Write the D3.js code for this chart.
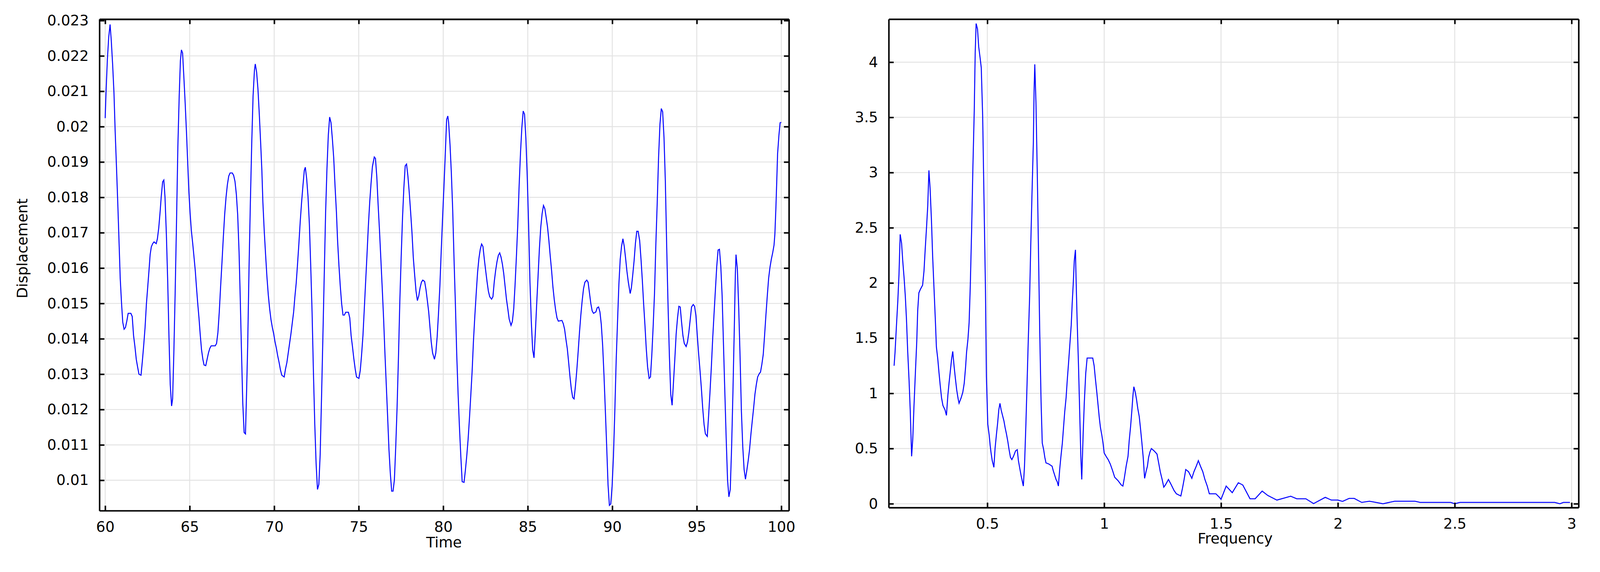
<!DOCTYPE html>
<html><head><meta charset="utf-8">
<script src="https://cdn.jsdelivr.net/npm/d3@7"></script>
<style>html,body{margin:0;padding:0;background:#fff;overflow:hidden}svg{display:block;width:100vw;height:100vh}</style>
</head><body>
<script>
const time = [60.0,60.05,60.13,60.21,60.29,60.36,60.44,60.52,60.59,60.67,60.75,60.83,60.89,60.97,61.04,61.12,61.2,61.28,61.36,61.52,61.6,61.68,61.76,61.84,61.92,62.0,62.12,62.2,62.28,62.36,62.44,62.52,62.6,62.66,62.73,62.81,62.89,63.02,63.09,63.17,63.25,63.32,63.4,63.47,63.54,63.62,63.7,63.77,63.85,63.93,63.99,64.06,64.14,64.22,64.3,64.38,64.45,64.51,64.58,64.65,64.73,64.81,64.89,64.95,65.02,65.1,65.18,65.26,65.33,65.39,65.47,65.55,65.62,65.7,65.78,65.85,65.95,66.03,66.11,66.19,66.27,66.51,66.59,66.67,66.75,66.83,66.91,66.99,67.07,67.15,67.23,67.31,67.39,67.52,67.6,67.68,67.76,67.84,67.92,67.99,68.06,68.14,68.22,68.3,68.35,68.43,68.51,68.59,68.67,68.75,68.83,68.88,68.96,69.04,69.12,69.2,69.27,69.33,69.41,69.49,69.57,69.65,69.73,69.81,69.89,69.97,70.05,70.13,70.21,70.29,70.37,70.45,70.59,70.67,70.75,70.83,70.91,70.99,71.07,71.15,71.22,71.3,71.38,71.46,71.54,71.62,71.7,71.78,71.84,71.92,72.0,72.08,72.16,72.24,72.32,72.4,72.48,72.56,72.64,72.72,72.8,72.88,72.96,73.04,73.12,73.2,73.28,73.36,73.44,73.52,73.6,73.68,73.75,73.83,73.91,73.99,74.07,74.15,74.23,74.39,74.47,74.55,74.63,74.71,74.79,74.87,75.01,75.09,75.17,75.25,75.33,75.41,75.49,75.57,75.65,75.73,75.81,75.92,75.99,76.07,76.15,76.23,76.31,76.39,76.47,76.55,76.63,76.71,76.79,76.87,76.95,77.03,77.11,77.19,77.27,77.35,77.43,77.51,77.59,77.67,77.75,77.83,77.91,77.99,78.07,78.15,78.23,78.31,78.39,78.47,78.55,78.63,78.71,78.79,78.9,78.98,79.06,79.14,79.21,79.29,79.37,79.48,79.56,79.64,79.72,79.8,79.88,79.96,80.04,80.12,80.2,80.27,80.32,80.4,80.48,80.56,80.64,80.72,80.8,80.88,80.96,81.04,81.12,81.23,81.31,81.39,81.47,81.55,81.63,81.71,81.79,81.87,81.95,82.03,82.11,82.19,82.27,82.35,82.43,82.51,82.59,82.67,82.75,82.86,82.94,83.02,83.1,83.18,83.26,83.34,83.42,83.5,83.58,83.66,83.74,83.82,83.9,84.01,84.09,84.17,84.25,84.33,84.41,84.49,84.57,84.65,84.73,84.81,84.89,84.97,85.05,85.13,85.21,85.29,85.37,85.45,85.53,85.61,85.69,85.77,85.85,85.93,86.01,86.09,86.17,86.25,86.33,86.41,86.49,86.57,86.65,86.73,86.81,87.02,87.1,87.18,87.26,87.34,87.42,87.5,87.58,87.66,87.74,87.82,87.9,87.98,88.06,88.14,88.22,88.3,88.38,88.49,88.57,88.65,88.73,88.81,88.89,89.03,89.11,89.19,89.27,89.35,89.43,89.51,89.59,89.67,89.75,89.83,89.91,89.99,90.07,90.15,90.23,90.31,90.39,90.47,90.55,90.63,90.71,90.79,90.87,90.95,91.06,91.13,91.21,91.29,91.37,91.45,91.53,91.62,91.7,91.78,91.85,91.93,92.01,92.09,92.18,92.26,92.34,92.42,92.5,92.58,92.66,92.74,92.82,92.9,92.98,93.06,93.14,93.22,93.3,93.38,93.46,93.54,93.62,93.7,93.78,93.86,93.94,94.02,94.1,94.18,94.26,94.37,94.45,94.53,94.61,94.69,94.79,94.87,94.95,95.03,95.11,95.19,95.27,95.35,95.43,95.51,95.62,95.7,95.78,95.86,95.94,96.02,96.1,96.18,96.26,96.34,96.42,96.5,96.58,96.66,96.74,96.82,96.9,96.98,97.06,97.14,97.22,97.28,97.32,97.4,97.48,97.56,97.64,97.72,97.8,97.88,97.96,98.04,98.12,98.2,98.28,98.36,98.44,98.52,98.6,98.69,98.77,98.85,98.93,99.01,99.09,99.17,99.25,99.33,99.41,99.49,99.57,99.62,99.68,99.73,99.78,99.86,99.93,100.0];
const displacement = [0.02024,0.02096,0.0219,0.02253,0.02289,0.02244,0.02177,0.02096,0.01988,0.01885,0.01777,0.0166,0.01571,0.01499,0.01447,0.01427,0.01432,0.0145,0.01472,0.01472,0.01463,0.01409,0.01378,0.01342,0.0132,0.013,0.01297,0.01337,0.01382,0.01432,0.01499,0.01548,0.01598,0.01638,0.0166,0.01669,0.01674,0.01669,0.01683,0.01714,0.01759,0.01804,0.01844,0.01849,0.018,0.01696,0.01562,0.01414,0.0127,0.0121,0.0123,0.01355,0.0153,0.01728,0.01943,0.02087,0.02186,0.02217,0.02208,0.02145,0.02069,0.01984,0.01889,0.01818,0.01759,0.01705,0.01669,0.01629,0.01593,0.01553,0.01503,0.01459,0.01414,0.01369,0.01342,0.01326,0.01324,0.01342,0.0136,0.01373,0.0138,0.0138,0.01387,0.01418,0.01476,0.01548,0.01616,0.01687,0.01752,0.018,0.01836,0.0186,0.01869,0.01869,0.01862,0.01845,0.01809,0.0175,0.01647,0.01517,0.01373,0.01219,0.01135,0.01131,0.0122,0.01378,0.01598,0.01786,0.01952,0.02087,0.02159,0.02177,0.02154,0.02105,0.02033,0.01952,0.01876,0.01786,0.01705,0.01638,0.01575,0.01524,0.01485,0.01454,0.01432,0.01414,0.01391,0.01373,0.01351,0.01333,0.01312,0.01297,0.01292,0.01315,0.01333,0.0136,0.01387,0.01414,0.01445,0.01476,0.01517,0.01557,0.01611,0.01669,0.01732,0.01786,0.01833,0.01876,0.01885,0.01853,0.01802,0.01725,0.01607,0.01476,0.01306,0.01158,0.01046,0.00974,0.00988,0.01073,0.01234,0.01405,0.0158,0.01755,0.0188,0.01975,0.02027,0.02011,0.01966,0.01912,0.01831,0.01759,0.01677,0.01607,0.01548,0.01499,0.01467,0.01467,0.01475,0.01475,0.01459,0.01409,0.01378,0.01344,0.01315,0.01292,0.01288,0.0131,0.01355,0.01409,0.01485,0.01562,0.01638,0.01719,0.01786,0.0184,0.01887,0.01914,0.0191,0.01858,0.01777,0.01705,0.01625,0.01544,0.01459,0.0136,0.0127,0.0118,0.01086,0.01019,0.00969,0.00969,0.01001,0.01095,0.01207,0.01346,0.01503,0.01629,0.01741,0.01827,0.01889,0.01894,0.0186,0.01813,0.01759,0.01701,0.01629,0.0158,0.01535,0.01508,0.01521,0.01544,0.0156,0.01566,0.01562,0.01539,0.01508,0.01476,0.01436,0.01391,0.0136,0.01342,0.0136,0.01405,0.01472,0.01548,0.01647,0.01741,0.01827,0.01921,0.0202,0.0203,0.02011,0.0195,0.01869,0.01764,0.01623,0.01497,0.01353,0.01243,0.01149,0.01068,0.00996,0.00994,0.01028,0.01068,0.01115,0.01174,0.0124,0.01309,0.01396,0.01465,0.01528,0.01587,0.01627,0.01653,0.01668,0.01661,0.01625,0.01593,0.01562,0.01535,0.01519,0.01512,0.01519,0.01562,0.01593,0.01618,0.01636,0.01643,0.01631,0.01611,0.01584,0.01548,0.01512,0.01485,0.01456,0.01438,0.01449,0.01485,0.01553,0.01634,0.01723,0.01833,0.01925,0.01997,0.02044,0.02035,0.01966,0.01858,0.01723,0.01562,0.01449,0.01369,0.01346,0.01418,0.015,0.01577,0.01656,0.01716,0.01754,0.01777,0.01768,0.01743,0.01716,0.01678,0.01634,0.01593,0.01546,0.0151,0.01481,0.01459,0.0145,0.01452,0.01443,0.01427,0.01398,0.01372,0.01333,0.01292,0.01257,0.01234,0.0123,0.01266,0.0131,0.01362,0.01418,0.01467,0.01508,0.01542,0.0156,0.01566,0.0156,0.0153,0.015,0.01479,0.01472,0.01476,0.01488,0.0149,0.01476,0.01441,0.01382,0.01297,0.01198,0.01095,0.00987,0.00929,0.00933,0.00983,0.01068,0.01194,0.01337,0.01447,0.01553,0.01625,0.01662,0.01683,0.01661,0.01627,0.0159,0.0156,0.01528,0.01544,0.0158,0.0162,0.0167,0.01704,0.01704,0.01678,0.01625,0.01564,0.01503,0.01441,0.01373,0.0132,0.01288,0.01292,0.01355,0.01436,0.0153,0.0167,0.01786,0.01914,0.02006,0.02051,0.02042,0.0197,0.01845,0.0166,0.01494,0.01351,0.01243,0.01212,0.01276,0.01342,0.01414,0.01459,0.01492,0.0149,0.01447,0.01409,0.01387,0.01378,0.01391,0.01418,0.01454,0.0149,0.01497,0.01492,0.01465,0.01409,0.01357,0.01311,0.01261,0.01204,0.01158,0.01131,0.01124,0.01183,0.01248,0.01319,0.014,0.0147,0.01537,0.01604,0.01651,0.01653,0.01606,0.01521,0.01382,0.01248,0.01117,0.01001,0.00953,0.00974,0.01093,0.01252,0.01432,0.0158,0.01638,0.01598,0.01488,0.01351,0.01194,0.01095,0.0103,0.01003,0.01028,0.01055,0.01086,0.01129,0.01167,0.01203,0.01243,0.0127,0.01292,0.01301,0.01306,0.01328,0.01355,0.01409,0.01467,0.01521,0.01571,0.01602,0.01625,0.01643,0.01665,0.01696,0.0177,0.01844,0.01923,0.01976,0.02011,0.02012];
const frequency = [0.101,0.105,0.111,0.117,0.122,0.127,0.133,0.138,0.144,0.149,0.154,0.159,0.165,0.170,0.176,0.181,0.186,0.192,0.198,0.202,0.207,0.213,0.223,0.229,0.234,0.240,0.245,0.250,0.255,0.261,0.266,0.272,0.278,0.282,0.288,0.293,0.298,0.304,0.310,0.319,0.325,0.331,0.336,0.342,0.347,0.352,0.358,0.363,0.369,0.375,0.379,0.388,0.395,0.401,0.407,0.411,0.417,0.422,0.427,0.433,0.438,0.444,0.448,0.452,0.458,0.463,0.469,0.474,0.480,0.486,0.492,0.496,0.502,0.508,0.512,0.516,0.521,0.528,0.533,0.539,0.544,0.549,0.554,0.559,0.565,0.571,0.576,0.582,0.588,0.593,0.599,0.605,0.612,0.621,0.628,0.633,0.638,0.644,0.650,0.654,0.659,0.665,0.670,0.675,0.681,0.686,0.691,0.697,0.700,0.703,0.708,0.714,0.719,0.724,0.730,0.735,0.741,0.746,0.751,0.763,0.777,0.782,0.788,0.794,0.799,0.804,0.810,0.815,0.821,0.826,0.831,0.837,0.842,0.847,0.853,0.859,0.863,0.868,0.872,0.877,0.879,0.884,0.890,0.895,0.900,0.904,0.910,0.915,0.921,0.927,0.937,0.951,0.957,0.962,0.968,0.974,0.979,0.984,0.990,0.995,1.000,1.008,1.017,1.026,1.036,1.045,1.059,1.073,1.080,1.086,1.094,1.102,1.107,1.113,1.119,1.123,1.127,1.133,1.138,1.144,1.150,1.155,1.161,1.167,1.173,1.179,1.185,1.190,1.196,1.202,1.213,1.226,1.234,1.240,1.248,1.255,1.262,1.275,1.285,1.299,1.309,1.328,1.335,1.342,1.349,1.361,1.375,1.384,1.394,1.403,1.412,1.422,1.431,1.441,1.450,1.478,1.492,1.500,1.522,1.548,1.574,1.593,1.624,1.646,1.676,1.700,1.739,1.765,1.798,1.824,1.863,1.896,1.946,1.972,2.000,2.020,2.048,2.070,2.102,2.135,2.163,2.193,2.243,2.330,2.352,2.483,2.500,2.522,2.928,2.950,2.965,2.993];
const amplitude = [1.25,1.37,1.61,1.84,2.08,2.44,2.36,2.2,2.04,1.88,1.67,1.39,1.12,0.85,0.43,0.59,0.88,1.18,1.47,1.75,1.91,1.94,1.98,2.11,2.3,2.51,2.7,3.02,2.86,2.56,2.24,1.94,1.64,1.42,1.31,1.19,1.08,0.96,0.89,0.85,0.8,0.98,1.09,1.21,1.31,1.38,1.24,1.14,1.03,0.95,0.91,0.96,1.01,1.09,1.24,1.37,1.49,1.64,1.97,2.5,3.03,3.56,4.08,4.35,4.3,4.14,4.04,3.95,3.51,2.72,1.94,1.15,0.72,0.62,0.53,0.46,0.39,0.33,0.5,0.63,0.73,0.85,0.91,0.85,0.8,0.75,0.69,0.63,0.56,0.49,0.42,0.4,0.43,0.48,0.49,0.39,0.33,0.26,0.2,0.16,0.34,0.72,1.09,1.47,1.88,2.36,2.8,3.28,3.74,3.98,3.64,2.96,2.27,1.58,0.92,0.55,0.49,0.42,0.37,0.36,0.34,0.3,0.26,0.22,0.2,0.16,0.32,0.43,0.55,0.69,0.83,0.96,1.12,1.26,1.44,1.62,1.81,2.01,2.2,2.3,2.1,1.68,1.26,0.85,0.43,0.22,0.63,0.92,1.18,1.32,1.32,1.32,1.25,1.14,1.02,0.89,0.78,0.69,0.62,0.55,0.46,0.43,0.4,0.36,0.3,0.24,0.21,0.17,0.16,0.23,0.34,0.43,0.57,0.7,0.86,0.98,1.06,1.01,0.95,0.86,0.79,0.69,0.56,0.42,0.23,0.29,0.34,0.42,0.47,0.5,0.48,0.45,0.36,0.29,0.22,0.15,0.17,0.22,0.18,0.12,0.09,0.07,0.14,0.22,0.31,0.29,0.23,0.29,0.34,0.39,0.34,0.29,0.22,0.16,0.09,0.09,0.06,0.04,0.16,0.10,0.19,0.17,0.045,0.045,0.115,0.075,0.033,0.048,0.068,0.045,0.045,0.001,0.058,0.033,0.033,0.021,0.048,0.048,0.012,0.023,0.012,0.0,0.023,0.023,0.012,0.012,0.0,0.012,0.012,0.0,0.012,0.012];
const timeTicks = [60,65,70,75,80,85,90,95,100];
const dispTicks = [0.01,0.011,0.012,0.013,0.014,0.015,0.016,0.017,0.018,0.019,0.02,0.021,0.022,0.023];
const freqTicks = [0.5,1,1.5,2,2.5,3];
const ampTicks = [0,0.5,1,1.5,2,2.5,3,3.5,4];

const W=4184,H=1465;
const svg=d3.select("body").append("svg").attr("viewBox",`0 0 ${W} ${H}`).attr("preserveAspectRatio","xMinYMin meet");
const FONT="DejaVu Sans";

function panel(o){
  const x=d3.scaleLinear().domain(o.xd).range([o.l,o.r]);
  const y=d3.scaleLinear().domain(o.yd).range([o.b,o.t]);
  const g=svg.append("g");
  g.selectAll(".gx").data(o.xt).join("line").attr("x1",d=>x(d)).attr("x2",d=>x(d)).attr("y1",o.t).attr("y2",o.b).attr("stroke","#e3e3e3").attr("stroke-width",2.5);
  g.selectAll(".gy").data(o.yt).join("line").attr("y1",d=>y(d)).attr("y2",d=>y(d)).attr("x1",o.l).attr("x2",o.r).attr("stroke","#e3e3e3").attr("stroke-width",2.5);
  g.append("clipPath").attr("id",o.id).append("rect").attr("x",o.l).attr("y",o.t).attr("width",o.r-o.l).attr("height",o.b-o.t);
  g.append("path").datum(o.xs.map((v,i)=>[v,o.ys[i]])).attr("clip-path",`url(#${o.id})`)
    .attr("d",d3.line().x(d=>x(d[0])).y(d=>y(d[1]))).attr("fill","none").attr("stroke","#0000ff").attr("stroke-width",2.6);
  const ax=[
    [d3.axisBottom(x).tickValues(o.xt).tickFormat(d3.format("")).tickSizeInner(-13).tickSizeOuter(0),`translate(0,${o.b})`],
    [d3.axisTop(x).tickValues(o.xt).tickFormat("").tickSizeInner(-13).tickSizeOuter(0),`translate(0,${o.t})`],
    [d3.axisLeft(y).tickValues(o.yt).tickFormat(d3.format("")).tickSizeInner(-13).tickSizeOuter(0),`translate(${o.l},0)`],
    [d3.axisRight(y).tickValues(o.yt).tickFormat("").tickSizeInner(-13).tickSizeOuter(0),`translate(${o.r},0)`]];
  ax.forEach(([a,tr])=>{
    const gg=g.append("g").attr("transform",tr).call(a.tickPadding(28));
    gg.select(".domain").attr("stroke","#000").attr("stroke-width",4);
    gg.selectAll(".tick line").attr("stroke","#000").attr("stroke-width",4);
    gg.selectAll("text").attr("font-family",FONT).attr("font-size",38).attr("fill","#000");
  });
  return {x,y,g};
}
panel({id:"c1",l:260,r:2063,t:50,b:1336,xd:[59.66,100.45],yd:[0.00914,0.02304],xs:time,ys:displacement,xt:timeTicks,yt:dispTicks});
panel({id:"c2",l:2324,r:4128,t:50,b:1328,xd:[0.078,3.03],yd:[-0.035,4.39],xs:frequency,ys:amplitude,xt:freqTicks,yt:ampTicks});
svg.append("text").attr("x",1161).attr("y",1432).attr("text-anchor","middle").attr("font-family",FONT).attr("font-size",38).text("Time");
svg.append("text").attr("transform","translate(72,650) rotate(-90)").attr("text-anchor","middle").attr("font-family",FONT).attr("font-size",38).text("Displacement");
svg.append("text").attr("x",3230).attr("y",1422).attr("text-anchor","middle").attr("font-family",FONT).attr("font-size",38).text("Frequency");
</script>
</body></html>
